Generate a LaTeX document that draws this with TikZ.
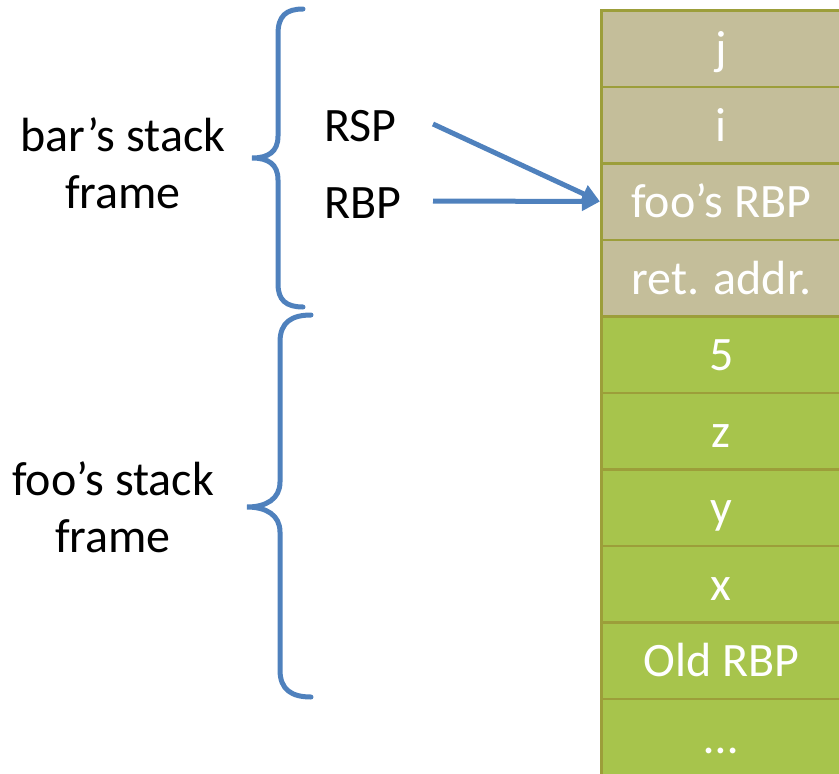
\documentclass[tikz,border=0pt]{standalone}
\usepackage{fontspec}
\setmainfont{Carlito}
\usetikzlibrary{arrows.meta}
\definecolor{tanfill}{HTML}{C4BE9A}
\definecolor{greenfill}{HTML}{A7C44C}
\definecolor{cellrule}{HTML}{9C9E3A}
\definecolor{braceblue}{HTML}{4F81BD}
\tikzset{
  cell/.style={draw=cellrule, line width=2.5pt, minimum width=240pt, minimum height=76.5pt,
    inner sep=0pt, text height=34pt, text depth=2pt,
    text=white, font=\fontsize{48}{48}\selectfont, anchor=north west},
  barcell/.style={cell, fill=tanfill},
  foocell/.style={cell, fill=greenfill},
  lbl/.style={font=\fontsize{48}{57}\selectfont, align=center, text=black},
  reg/.style={font=\fontsize{48}{48}\selectfont, text=black, anchor=west, inner sep=0pt},
  brace/.style={draw=braceblue, line width=5pt, line cap=round},
  ptr/.style={draw=braceblue, line width=5pt, -{Triangle[length=18pt,width=18pt]}}
}
\begin{document}
\begin{tikzpicture}[x=1pt, y=-1pt]
\useasboundingbox (0,0) rectangle (839,774);
% stack cells, top to bottom
\node[barcell]  (c1)  at (600,9)     {j};
\node[barcell]  (c2)  at (600,85.5)  {i};
\node[barcell]  (c3)  at (600,162)   {foo’s RBP};
\node[barcell]  (c4)  at (600,238.5) {ret. addr.};
\node[foocell]  (c5)  at (600,315)   {5};
\node[foocell]  (c6)  at (600,391.5) {z};
\node[foocell]  (c7)  at (600,468)   {y};
\node[foocell]  (c8)  at (600,544.5) {x};
\node[foocell]  (c9)  at (600,621)   {Old RBP};
\node[foocell]  (c10) at (600,697.5) {…};

% frame labels
\node[lbl] (barlbl) at (123,163) {bar’s stack\\frame};
\node[lbl] (foolbl) at (113,507) {foo’s stack\\frame};

% register labels
\node[reg] (rsp) at (324,126) {RSP};
\node[reg] (rbp) at (324,203) {RBP};
\coordinate (rspstart) at (433,124);
\coordinate (rbpstart) at (433,201);

% pointers
\draw[ptr] (rspstart) -- (c3.west);
\draw[ptr] (rbpstart) -- (c3.west);

% braces
\draw[brace] (303,9) .. controls (286,9) and (278,16) .. (278,34)
  -- (278,136) .. controls (278,152) and (268,158) .. (252,158)
  .. controls (268,158) and (278,164) .. (278,180)
  -- (278,284) .. controls (278,300) and (286,307) .. (303,307);
\draw[brace] (311,315) .. controls (292,315) and (280,322) .. (280,342)
  -- (280,482) .. controls (280,499) and (266,507) .. (247,507)
  .. controls (266,507) and (280,515) .. (280,532)
  -- (280,670) .. controls (280,690) and (292,697) .. (311,697);
\end{tikzpicture}
\end{document}
